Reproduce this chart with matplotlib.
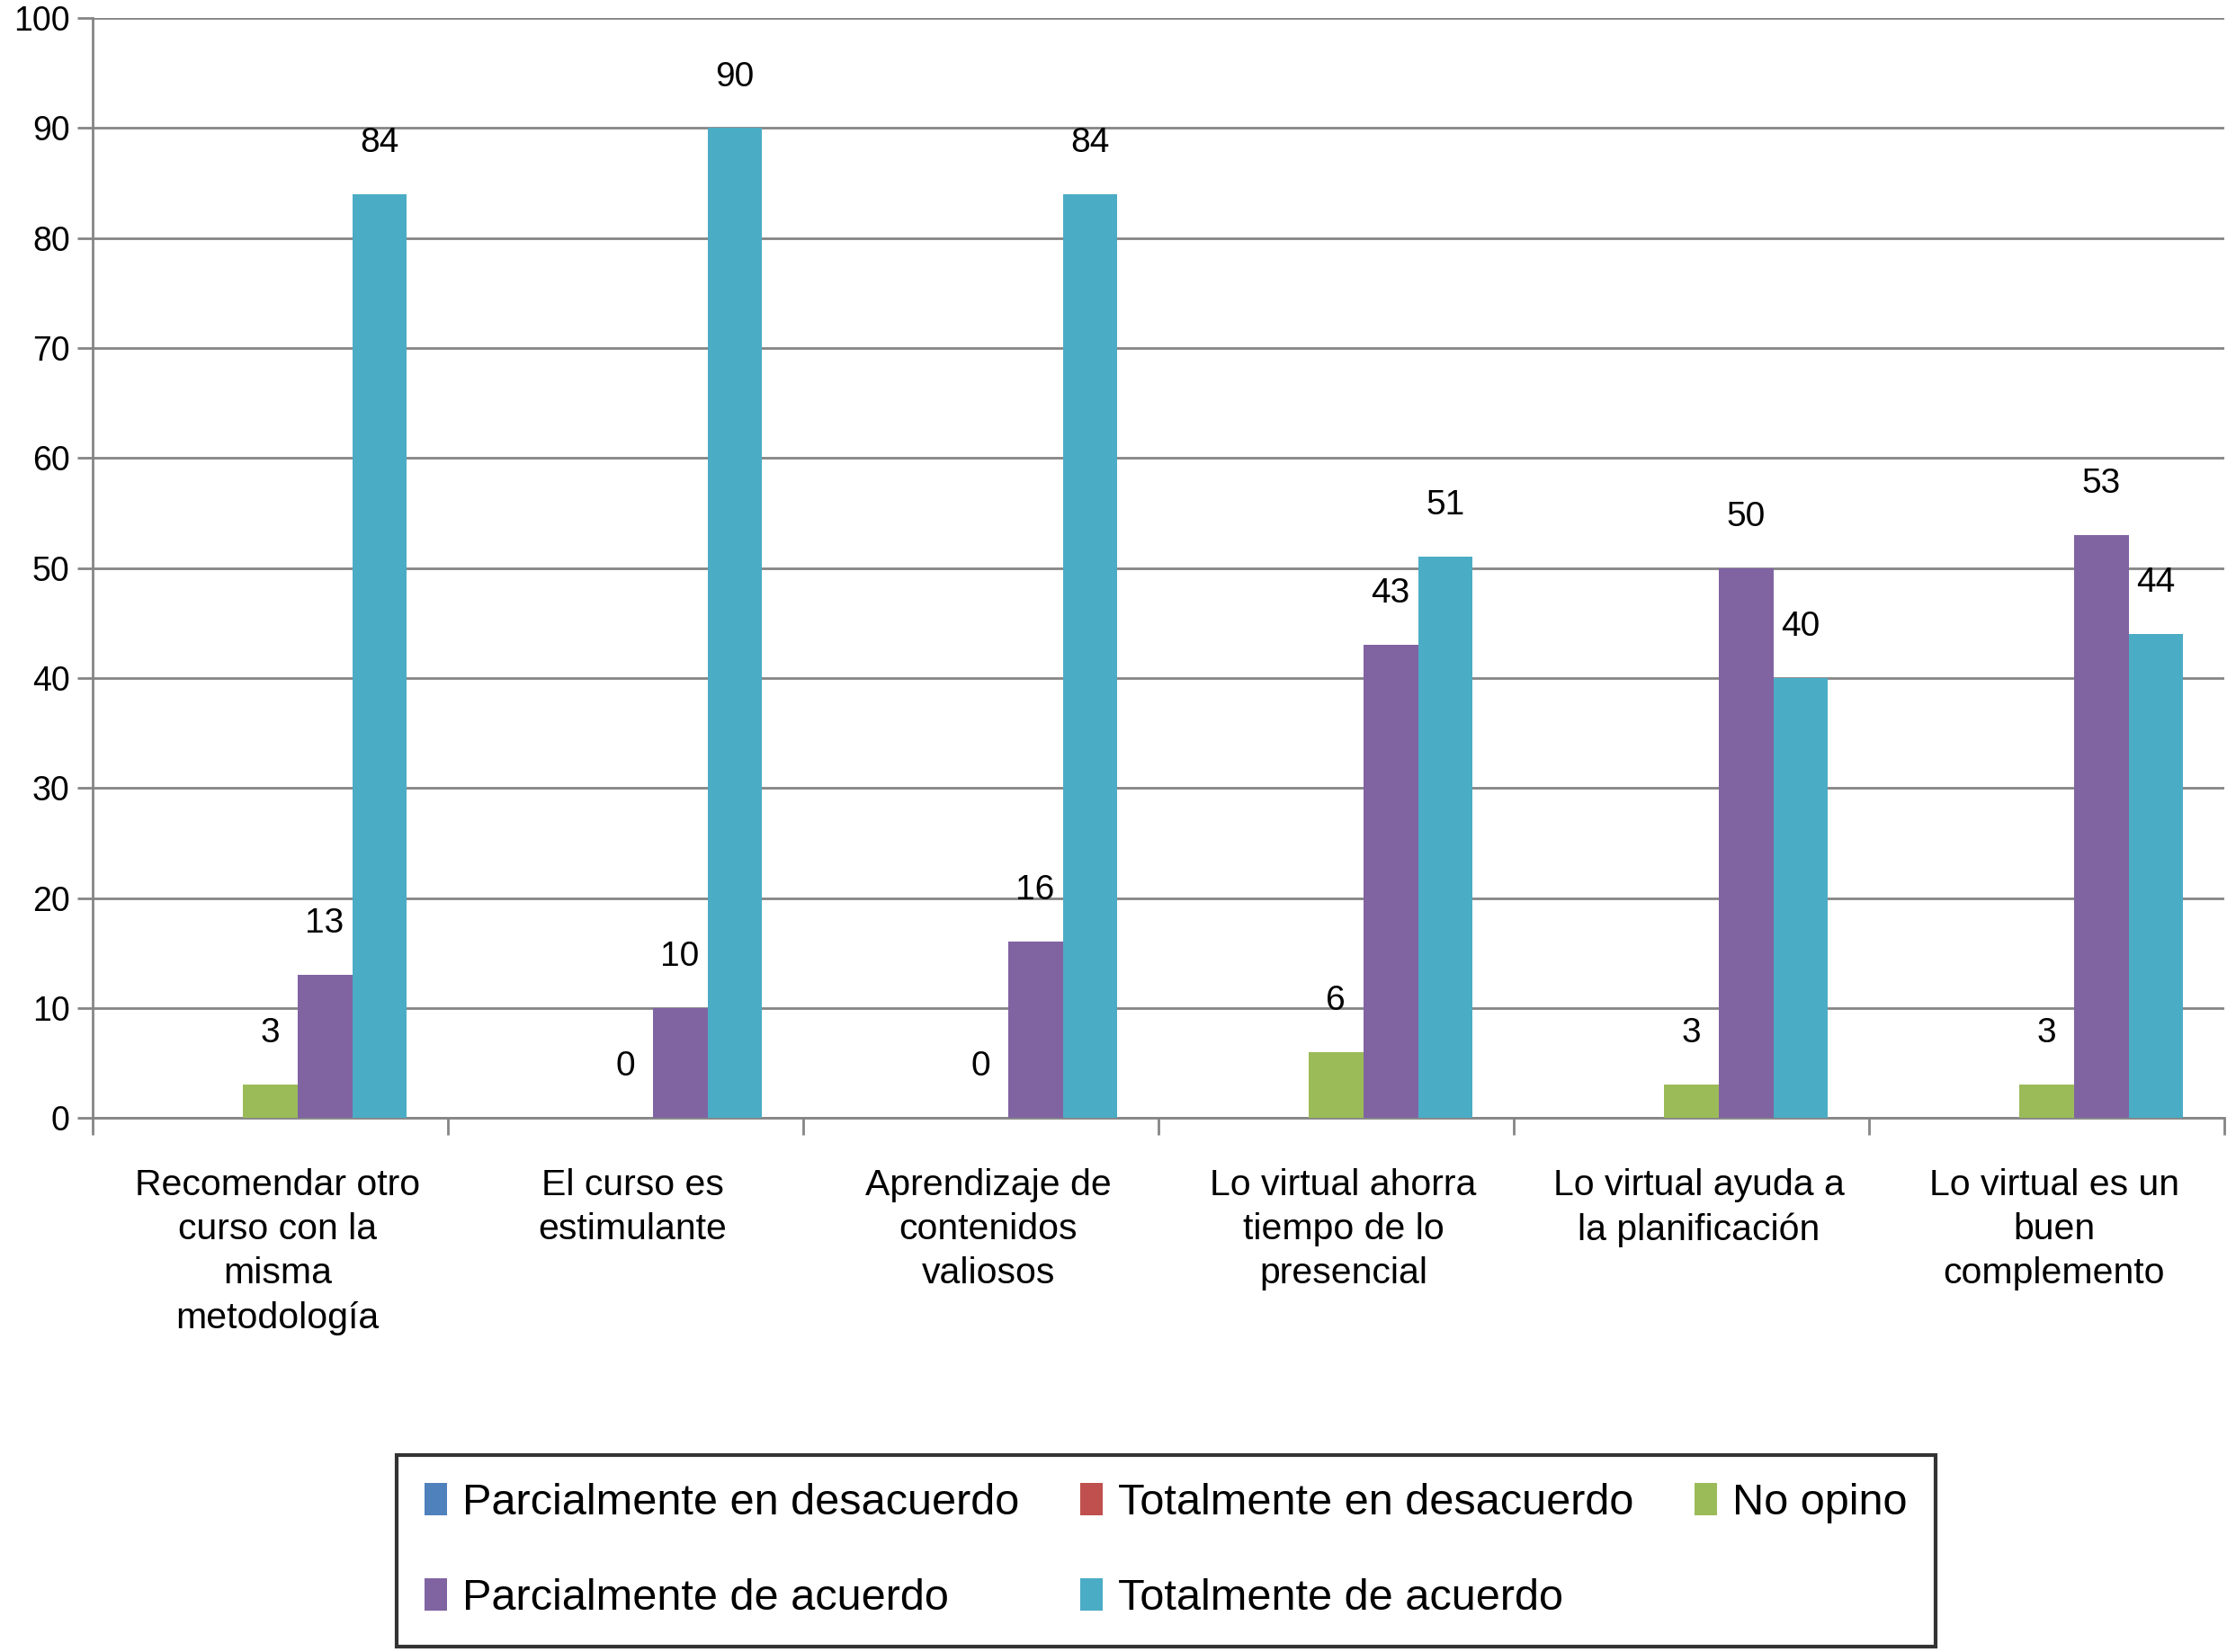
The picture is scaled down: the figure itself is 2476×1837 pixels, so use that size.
import numpy as np
import matplotlib
matplotlib.use("Agg")
import matplotlib.pyplot as plt
import matplotlib.transforms as mtransforms

plt.rcParams['font.family'] = ['Liberation Sans', 'DejaVu Sans']

categorias = [
    "Recomendar otro\ncurso con la\nmisma\nmetodología",
    "El curso es\nestimulante",
    "Aprendizaje de\ncontenidos\nvaliosos",
    "Lo virtual ahorra\ntiempo de lo\npresencial",
    "Lo virtual ayuda a\nla planificación",
    "Lo virtual es un\nbuen\ncomplemento",
]
series = [
    "Parcialmente en desacuerdo",
    "Totalmente en desacuerdo",
    "No opino",
    "Parcialmente de acuerdo",
    "Totalmente de acuerdo",
]
parcial_desacuerdo = [0, 0, 0, 0, 0, 0]
total_desacuerdo = [0, 0, 0, 0, 0, 0]
no_opino = [3, 0, 0, 6, 3, 3]
parcial_acuerdo = [13, 10, 16, 43, 50, 53]
total_acuerdo = [84, 90, 84, 51, 40, 44]

valores = [parcial_desacuerdo, total_desacuerdo, no_opino, parcial_acuerdo, total_acuerdo]
colores = ["#4F81BD", "#C0504D", "#9BBB59", "#8064A2", "#4BACC6"]
# solo se etiquetan estas series en el original
con_etiqueta = [False, False, True, True, True]

fig = plt.figure(figsize=(24.76, 18.37), dpi=100)
ax = fig.add_axes([0.0415, 0.3233, 0.9572, 0.6657])

x = np.arange(len(categorias))
w = 0.154
barras = []
for i, (vals, col) in enumerate(zip(valores, colores)):
    pos = x + (i - 2) * w
    b = ax.bar(pos, vals, width=w, color=col, label=series[i], zorder=3)
    barras.append(b)
    if con_etiqueta[i]:
        for px, v in zip(pos, vals):
            ax.annotate(str(v), (px, v), xytext=(0, 41), textcoords="offset points",
                        ha="center", va="center", fontsize=28)

ax.set_xlim(-0.5, len(categorias) - 0.5)
ax.set_ylim(0, 100)
ax.set_yticks(np.arange(0, 101, 10))
ax.yaxis.grid(True, color="#858585", linewidth=2, zorder=0)
ax.tick_params(axis="y", labelsize=27, length=12, width=2, color="#858585", pad=6)

ax.set_xticks(x)
ax.set_xticklabels(categorias, fontsize=29.5, linespacing=1.38)
ax.tick_params(axis="x", which="major", length=0, pad=40)
ax.set_xticks(np.arange(-0.5, len(categorias), 1), minor=True)
ax.tick_params(axis="x", which="minor", length=14, width=2, color="#858585")
# las etiquetas van un poco a la derecha del centro del grupo
desplaz = mtransforms.ScaledTranslation(6 / 72, 0, fig.dpi_scale_trans)
for lab in ax.get_xticklabels():
    lab.set_transform(lab.get_transform() + desplaz)

for s in ["top", "right"]:
    ax.spines[s].set_visible(False)
for s in ["left", "bottom"]:
    ax.spines[s].set_color("#858585")
    ax.spines[s].set_linewidth(2)

# orden para que la leyenda quede por filas
orden = [0, 3, 1, 4, 2]
leg = fig.legend([barras[k] for k in orden], [series[k] for k in orden],
                 ncol=3, loc="lower left", bbox_to_anchor=(0.178, 0.003, 0.691, 0.117),
                 mode="expand", fontsize=35, frameon=True, fancybox=False,
                 handlelength=0.5, handleheight=0.75, handletextpad=0.35,
                 columnspacing=1.2, labelspacing=1.25, borderpad=0.65,
                 borderaxespad=0)
leg.get_frame().set_edgecolor("black")
leg.get_frame().set_linewidth(3)

fig.savefig("out.png", dpi=100)
